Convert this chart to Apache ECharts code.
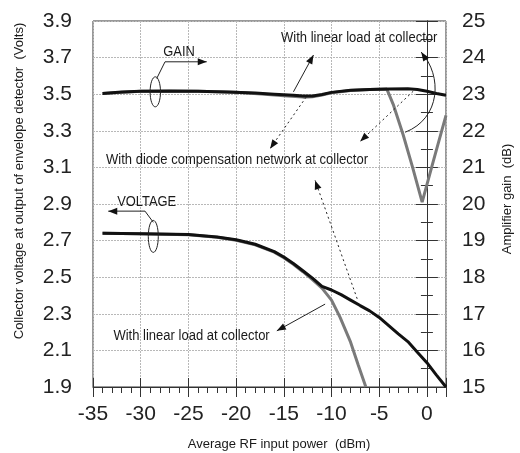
<!DOCTYPE html>
<html><head><meta charset="utf-8">
<script src="https://cdn.jsdelivr.net/npm/echarts@6/dist/echarts.min.js"></script>
<style>html,body{margin:0;padding:0;background:#fff}#c{width:520px;height:453px}</style>
</head><body><div id="c"></div>
<script>
// ---- Gain (right axis, dB) ----
const gainX_diode = [-34,-32,-30,-27,-24,-21,-18,-16,-14,-13,-12,-11,-10,-8,-6,-4,-2,-1,0,1,2];
const gain_diode  = [23.02,23.06,23.08,23.09,23.08,23.06,23.03,23.0,22.97,22.95,22.95,22.99,23.05,23.11,23.13,23.14,23.15,23.13,23.08,23.02,22.97];
const gainX_linear = [-34,-30,-24,-20,-17,-15,-13,-12,-11,-10,-8,-6,-4.2,-3.5,-2.5,-1.5,-0.5,0.7,2];
const gain_linear  = [23.02,23.08,23.08,23.05,23.0,22.96,22.92,22.93,22.98,23.04,23.1,23.13,23.14,22.7,21.9,21.0,20.05,21.2,22.42];
// ---- Voltage (left axis, V) ----
const voltX_diode = [-34,-30,-25,-22,-20,-18,-16,-15,-14,-13,-12,-11,-10,-9,-8,-7,-6,-5,-4,-3,-2,-1,0,1,2];
const volt_diode  = [2.74,2.738,2.733,2.72,2.705,2.68,2.64,2.61,2.575,2.535,2.495,2.45,2.43,2.405,2.375,2.345,2.316,2.28,2.235,2.19,2.148,2.09,2.033,1.965,1.9];
const voltX_linear = [-34,-30,-25,-22,-20,-18,-16,-15,-14,-13,-12,-11,-10,-9.1,-8,-7.2,-6.4];
const volt_linear  = [2.74,2.738,2.732,2.718,2.702,2.677,2.637,2.606,2.57,2.53,2.487,2.44,2.375,2.28,2.145,2.02,1.9];
// ---- Axes ----
const xRange = [-35, 2], xStep = 5;
const vRange = [1.9, 3.9], vStep = 0.2;
const gRange = [15, 25], gStep = 1;
const xName = 'Average RF input power  (dBm)';
const vName = 'Collector voltage at output of envelope detector  (Volts)';
const gName = 'Amplifier gain  (dB)';

const FONT = '"Liberation Sans", Arial, sans-serif';
const AX = '#333';
const GRID = '#b8b8b8';
const pair = (xs, ys) => xs.map((x, i) => [x, ys[i]]);

const chart = echarts.init(document.getElementById('c'), null, {renderer: 'canvas'});
const lbl = (m) => ({fontSize: 21, fontFamily: FONT, color: '#222', margin: m});
const option = {
  animation: false,
  backgroundColor: '#fff',
  grid: {left: 93, right: 74, top: 21, bottom: 66, show: true, borderColor: AX, borderWidth: 1, backgroundColor: 'transparent'},
  xAxis: [
    {type: 'value', min: xRange[0], max: xRange[1], interval: xStep,
     axisLine: {lineStyle: {color: AX, width: 1}},
     axisTick: {length: 10, lineStyle: {color: AX}},
     minorTick: {show: true, splitNumber: 5, length: 6, lineStyle: {color: AX}},
     axisLabel: Object.assign(lbl(17), {showMaxLabel: false}),
     splitLine: {show: true, lineStyle: {color: GRID, type: [2, 1]}}},
    {type: 'value', min: xRange[0], max: xRange[1], interval: xStep, position: 'bottom',
     axisLine: {show: false}, axisTick: {inside: true, length: 9, lineStyle: {color: AX}},
     axisLabel: {show: false}, splitLine: {show: false}}
  ],
  yAxis: [
    {type: 'value', min: vRange[0], max: vRange[1], interval: vStep,
     axisLine: {show: true, lineStyle: {color: AX}},
     axisTick: {show: true, length: 11, lineStyle: {color: AX}},
     minorTick: {show: true, splitNumber: 2, length: 6, lineStyle: {color: AX}},
     axisLabel: Object.assign(lbl(21), {formatter: v => v.toFixed(1)}),
     splitLine: {show: true, lineStyle: {color: GRID, type: [2, 1]}}},
    {type: 'value', min: gRange[0], max: gRange[1], interval: gStep, position: 'right',
     axisLine: {show: true, lineStyle: {color: AX}},
     axisTick: {show: true, length: 11, lineStyle: {color: AX}},
     minorTick: {show: true, splitNumber: 2, length: 6, lineStyle: {color: AX}},
     axisLabel: lbl(16),
     splitLine: {show: false}}
  ],
  series: [
    {name: 'gain linear', type: 'line', yAxisIndex: 1, data: pair(gainX_linear, gain_linear), showSymbol: false,
     lineStyle: {color: '#7a7a7a', width: 3}, z: 2},
    {name: 'volt linear', type: 'line', yAxisIndex: 0, data: pair(voltX_linear, volt_linear), showSymbol: false,
     lineStyle: {color: '#7a7a7a', width: 3}, z: 2},
    {name: 'gain diode', type: 'line', yAxisIndex: 1, data: pair(gainX_diode, gain_diode), showSymbol: false,
     lineStyle: {color: '#111', width: 3}, z: 3},
    {name: 'volt diode', type: 'line', yAxisIndex: 0, data: pair(voltX_diode, volt_diode), showSymbol: false,
     lineStyle: {color: '#111', width: 3}, z: 3}
  ]
};
chart.setOption(option);

// ---- Annotations (anchored in data coordinates: [dBm, Volts]) ----
const P = (d) => chart.convertToPixel({xAxisIndex: 0, yAxisIndex: 0}, d);
const G = [];
const seg = (a, b, dash, w) => G.push({type: 'line', z: 20, shape: {x1: a[0], y1: a[1], x2: b[0], y2: b[1]},
  style: {stroke: '#222', lineWidth: w || 1, lineDash: dash || null}});
const head = (tip, from, L, W) => {
  L = L || 9; W = W || 3.5;
  const dx = tip[0] - from[0], dy = tip[1] - from[1], n = Math.hypot(dx, dy);
  const ux = dx / n, uy = dy / n;
  const bx = tip[0] - ux * L, by = tip[1] - uy * L;
  G.push({type: 'polygon', z: 21, shape: {points: [tip, [bx - uy * W, by + ux * W], [bx + uy * W, by - ux * W]]},
    style: {fill: '#111'}});
};
const arrow = (fromD, toD, dash) => { const a = P(fromD), b = P(toD); seg(a, b, dash); head(b, a); };
const txt = (d, s, size, sx) => { const p = P(d); G.push({type: 'text', z: 22, x: p[0], y: p[1], scaleX: sx,
  style: {text: s, fontSize: size, fontFamily: FONT, fill: '#1a1a1a', align: 'center', verticalAlign: 'middle'}}); };
const ell = (d, rx, ry) => { const p = P(d); G.push({type: 'ellipse', z: 20, shape: {cx: p[0], cy: p[1], rx: rx, ry: ry},
  style: {fill: null, stroke: '#222', lineWidth: 1}}); };

// GAIN
txt([-25.98, 3.732], 'GAIN', 15, 0.86);
arrow([-27.45, 3.677], [-23.08, 3.677]);
seg(P([-27.45, 3.677]), P([-28.32, 3.586]));
ell([-28.47, 3.513], 5.2, 15);
// VOLTAGE
txt([-29.37, 2.914], 'VOLTAGE', 15, 0.86);
arrow([-29.55, 2.861], [-33.4, 2.861]);
seg(P([-29.55, 2.861]), P([-28.68, 2.80]));
ell([-28.68, 2.723], 5, 16);
// top label
txt([-7.10, 3.807], 'With linear load at collector', 15.5, 0.84);
arrow([-13.99, 3.513], [-11.89, 3.714]);
(function () {
  const s = P([-2.28, 3.292]), c1 = P([1.45, 3.368]), c2 = P([1.65, 3.60]), e = P([-0.6, 3.730]);
  G.push({type: 'bezierCurve', z: 20, shape: {x1: s[0], y1: s[1], cpx1: c1[0], cpy1: c1[1], cpx2: c2[0], cpy2: c2[1], x2: e[0], y2: e[1]},
    style: {stroke: '#222', lineWidth: 1, fill: null}});
  head(e, [e[0] + 6, e[1] + 9]);
})();
// diode label
txt([-19.9, 3.144], 'With diode compensation network at collector', 15.5, 0.84);
arrow([-12.66, 3.484], [-16.44, 3.2025], [2, 3]);
arrow([-1.44, 3.516], [-7.0, 3.242], [2, 3]);
arrow([-7.31, 2.382], [-11.72, 3.029], [2, 3]);
// bottom label
txt([-24.67, 2.179], 'With linear load at collector', 15.5, 0.84);
arrow([-10.67, 2.353], [-15.73, 2.207]);
// axis names
G.push({type: 'text', z: 22, x: 19, y: 181, rotation: Math.PI / 2,
  style: {text: vName, fontSize: 13, fontFamily: FONT, fill: '#1a1a1a', align: 'center', verticalAlign: 'middle'}});
G.push({type: 'text', z: 22, x: 507, y: 199, rotation: Math.PI / 2,
  style: {text: gName, fontSize: 13, fontFamily: FONT, fill: '#1a1a1a', align: 'center', verticalAlign: 'middle'}});
G.push({type: 'text', z: 22, x: 279, y: 444,
  style: {text: xName, fontSize: 13, fontFamily: FONT, fill: '#1a1a1a', align: 'center', verticalAlign: 'middle'}});
chart.setOption({graphic: G});
</script></body></html>
